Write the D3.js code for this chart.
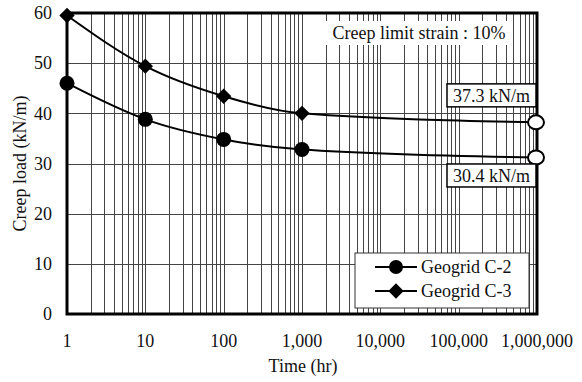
<!DOCTYPE html>
<html>
<head>
<meta charset="utf-8">
<script src="https://cdn.jsdelivr.net/npm/d3@7"></script>
<style>
  body { margin: 0; background: #fff; }
</style>
</head>
<body>
<div id="chart"></div>
<script>
// data
const TIMES = [1, 10, 100, 1000, 1000000];
const C2_LOAD = [46, 38.8, 34.8, 32.8, 31.2];
const C3_LOAD = [59.5, 49.4, 43.4, 40, 38.2];
const X_TICKS = [1, 10, 100, 1000, 10000, 100000, 1000000];
const Y_TICKS = [0, 10, 20, 30, 40, 50, 60];
const END_LABELS = ["37.3 kN/m", "30.4 kN/m"];

const width = 582, height = 382;
const m = { left: 67, right: 45, top: 13, bottom: 68 };
const FONT = '"Liberation Serif"';

const svg = d3.select("#chart").append("svg")
  .attr("width", width)
  .attr("height", height);

const x = d3.scaleLog().domain([1, 1e6]).range([m.left, width - m.right]);
const y = d3.scaleLinear().domain([0, 60]).range([height - m.bottom, m.top]);

function txt(sel) {
  return sel.style("font-family", FONT).style("font-size", "18px").attr("fill", "#111");
}

// ---- grid ----
const minor = [];
for (let e = 0; e < 6; e++) {
  for (let k = 1; k < 10; k++) minor.push(k * Math.pow(10, e));
}
minor.push(1e6);

const grid = svg.append("g").attr("stroke", "#444").attr("stroke-width", 1);
grid.selectAll("line.v").data(minor).enter().append("line")
  .attr("class", "v")
  .attr("x1", d => Math.round(x(d)) + 0.5).attr("x2", d => Math.round(x(d)) + 0.5)
  .attr("y1", y(60)).attr("y2", y(0));
grid.selectAll("line.h").data(Y_TICKS).enter().append("line")
  .attr("class", "h")
  .attr("x1", x(1)).attr("x2", x(1e6))
  .attr("y1", d => Math.round(y(d)) + 0.5).attr("y2", d => Math.round(y(d)) + 0.5);

// ---- frame ----
svg.append("rect")
  .attr("x", x(1)).attr("y", y(60))
  .attr("width", x(1e6) - x(1)).attr("height", y(0) - y(60))
  .attr("fill", "none").attr("stroke", "#000").attr("stroke-width", 3);

// ---- axes labels ----
const fmt = d3.format(",");
txt(svg.append("g").selectAll("text").data(X_TICKS).enter().append("text"))
  .attr("x", d => x(d)).attr("y", y(0) + 33)
  .attr("text-anchor", "middle")
  .text(d => fmt(d));

txt(svg.append("g").selectAll("text").data(Y_TICKS).enter().append("text"))
  .attr("x", x(1) - 15).attr("y", d => y(d)).attr("dy", "0.35em")
  .attr("text-anchor", "end")
  .text(d => d);

txt(svg.append("text"))
  .attr("x", (x(1) + x(1e6)) / 2 + 1).attr("y", height - 10)
  .attr("text-anchor", "middle")
  .text("Time (hr)");

txt(svg.append("text"))
  .attr("transform", `translate(26,${y(30)}) rotate(-90)`)
  .attr("text-anchor", "middle")
  .text("Creep load (kN/m)");

// ---- curves ----
const line = d3.line()
  .x(d => x(d[0])).y(d => y(d[1]))
  .curve(d3.curveMonotoneX);

const c2 = TIMES.map((t, i) => [t, C2_LOAD[i]]);
const c3 = TIMES.map((t, i) => [t, C3_LOAD[i]]);

[c2, c3].forEach(s => {
  svg.append("path").datum(s)
    .attr("d", line)
    .attr("fill", "none").attr("stroke", "#000").attr("stroke-width", 2);
});

const diamond = d3.symbol().type(d3.symbolDiamond2).size(150);

// filled markers (not the end point)
svg.selectAll("circle.c2").data(c2.slice(0, 4)).enter().append("circle")
  .attr("cx", d => x(d[0])).attr("cy", d => y(d[1])).attr("r", 7.5).attr("fill", "#000");
svg.selectAll("path.c3").data(c3.slice(0, 4)).enter().append("path")
  .attr("d", diamond)
  .attr("transform", d => `translate(${x(d[0])},${y(d[1])})`).attr("fill", "#000");

// hollow end markers
svg.selectAll("ellipse.end").data([c3[4], c2[4]]).enter().append("ellipse")
  .attr("cx", d => x(d[0]) - 1).attr("cy", d => y(d[1]))
  .attr("rx", 8).attr("ry", 7)
  .attr("fill", "#fff").attr("stroke", "#000").attr("stroke-width", 2);

// ---- end labels ----
const endBoxes = [
  { text: END_LABELS[0], cy: y(c3[4][1]) - 27 },
  { text: END_LABELS[1], cy: y(c2[4][1]) + 18 }
];
endBoxes.forEach(b => {
  const bw = 89, bh = 23, bx = x(1e6) - 90;
  svg.append("rect")
    .attr("x", bx).attr("y", b.cy - bh / 2).attr("width", bw).attr("height", bh)
    .attr("fill", "#fff").attr("stroke", "#000").attr("stroke-width", 1.5);
  txt(svg.append("text"))
    .attr("x", bx + bw / 2).attr("y", b.cy).attr("dy", "0.35em")
    .attr("text-anchor", "middle")
    .text(b.text);
});

// ---- creep limit note ----
svg.append("rect")
  .attr("x", 326).attr("y", 21).attr("width", 186).attr("height", 24)
  .attr("fill", "#fff");
txt(svg.append("text"))
  .attr("x", 419).attr("y", 33).attr("dy", "0.35em")
  .attr("text-anchor", "middle")
  .text("Creep limit strain : 10%");

// ---- legend ----
const lg = svg.append("g").attr("transform", "translate(355,253)");
lg.append("rect")
  .attr("width", 174).attr("height", 55)
  .attr("fill", "#fff").attr("stroke", "#333").attr("stroke-width", 1);
const legendItems = [
  { name: "Geogrid C-2", type: "circle" },
  { name: "Geogrid C-3", type: "diamond" }
];
legendItems.forEach((it, i) => {
  const ly = 14 + i * 24;
  lg.append("line").attr("x1", 20).attr("x2", 62).attr("y1", ly).attr("y2", ly)
    .attr("stroke", "#000").attr("stroke-width", 2);
  if (it.type === "circle") {
    lg.append("circle").attr("cx", 41).attr("cy", ly).attr("r", 7).attr("fill", "#000");
  } else {
    lg.append("path").attr("d", diamond).attr("transform", `translate(41,${ly})`).attr("fill", "#000");
  }
  txt(lg.append("text")).attr("x", 66).attr("y", ly).attr("dy", "0.35em")
    .text(it.name);
});
</script>
</body>
</html>
